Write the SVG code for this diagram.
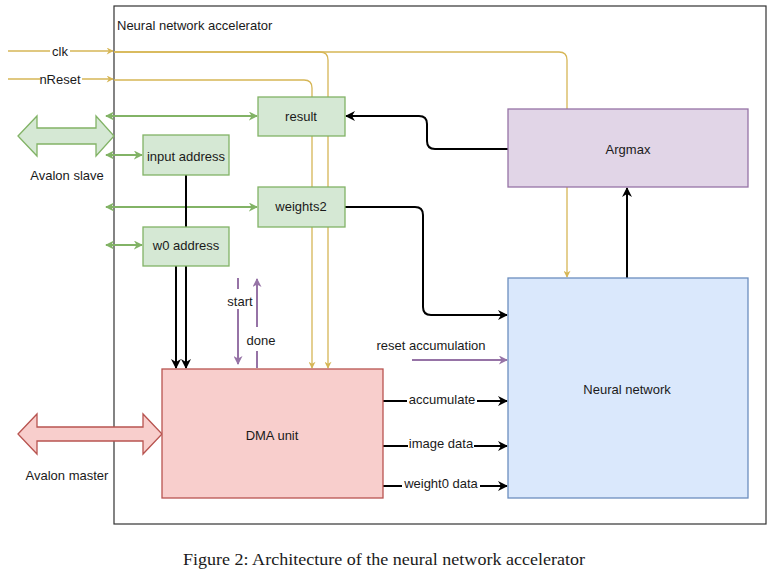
<svg xmlns="http://www.w3.org/2000/svg" width="772" height="579" viewBox="0 0 772 579">
<defs>
<style>
text{font-family:"Liberation Sans",Arial,sans-serif;font-size:13px;fill:#1a1a1a}
.c{text-anchor:middle}
.blk{fill:none;stroke:#000;stroke-width:2}
.grn{fill:none;stroke:#82b366;stroke-width:2}
.yel{fill:none;stroke:#d6b656;stroke-width:1.3}
.pur{fill:none;stroke:#9673a6;stroke-width:2}
.bg{fill:#fff}
.gbox{fill:#d5e8d4;stroke:#82b366;stroke-width:1.3}
</style>
<marker id="ab" viewBox="0 0 10 10" refX="9" refY="5" markerWidth="10" markerHeight="10" markerUnits="userSpaceOnUse" orient="auto-start-reverse"><path d="M0,0 L10,5 L0,10 L3,5 z" fill="#000"/></marker>
<marker id="ag" viewBox="0 0 10 10" refX="9" refY="5" markerWidth="9" markerHeight="9" markerUnits="userSpaceOnUse" orient="auto-start-reverse"><path d="M0,0 L10,5 L0,10 L3,5 z" fill="#82b366"/></marker>
<marker id="ay" viewBox="0 0 10 10" refX="9" refY="5" markerWidth="8" markerHeight="7" markerUnits="userSpaceOnUse" orient="auto"><path d="M0,0 L10,5 L0,10 L3,5 z" fill="#d6b656"/></marker>
<marker id="ap" viewBox="0 0 10 10" refX="9" refY="5" markerWidth="10" markerHeight="9" markerUnits="userSpaceOnUse" orient="auto"><path d="M0,0 L10,5 L0,10 L3,5 z" fill="#9673a6"/></marker>
</defs>
<rect width="772" height="579" fill="#fff"/>

<g id="container">
<rect x="114" y="6" width="652" height="518" fill="none" stroke="#333" stroke-width="1.2"/>
<text x="117" y="30">Neural network accelerator</text>
</g>

<g id="connectors">
<path class="yel" d="M8,51 H113" marker-end="url(#ay)"/>
<path class="yel" d="M8,79 H113" marker-end="url(#ay)"/>
<path class="yel" d="M114,52 H320 Q328,52 328,60 V368" marker-end="url(#ay)"/>
<path class="yel" d="M114,80 H304 Q312,80 312,88 V368" marker-end="url(#ay)"/>
<path class="yel" d="M114,52 H559 Q567,52 567,60 V277" marker-end="url(#ay)"/>
<path class="grn" d="M106,116 H257" marker-start="url(#ag)" marker-end="url(#ag)"/>
<path class="grn" d="M106,155 H142" marker-start="url(#ag)" marker-end="url(#ag)"/>
<path class="grn" d="M106,207 H257" marker-start="url(#ag)" marker-end="url(#ag)"/>
<path class="grn" d="M106,245 H142" marker-start="url(#ag)" marker-end="url(#ag)"/>
<path class="blk" d="M186,175 V368" marker-end="url(#ab)"/>
<path class="blk" d="M176,266 V368" marker-end="url(#ab)"/>
<path class="blk" d="M508,149 H435 Q427,149 427,141 V124 Q427,116 419,116 H346" marker-end="url(#ab)"/>
<path class="blk" d="M345,207 H415 Q423,207 423,215 V307 Q423,315 431,315 H507" marker-end="url(#ab)"/>
<path class="blk" d="M627,278 V188" marker-end="url(#ab)"/>
<path class="blk" d="M383,401 H507" marker-end="url(#ab)"/>
<path class="blk" d="M383,446 H507" marker-end="url(#ab)"/>
<path class="blk" d="M383,486 H507" marker-end="url(#ab)"/>
<path class="pur" d="M412,360 H507" marker-end="url(#ap)"/>
<path class="pur" d="M238,278 V364" marker-end="url(#ap)"/>
<path class="pur" d="M257,368 V279" marker-end="url(#ap)"/>
<rect class="bg" x="50" y="45" width="20" height="13"/>
<text class="c" x="60" y="56">clk</text>
<rect class="bg" x="40" y="73" width="42" height="13"/>
<text class="c" x="60" y="84">nReset</text>
<rect class="bg" x="226" y="289" width="28" height="20"/>
<text class="c" x="240" y="306">start</text>
<rect class="bg" x="245" y="327" width="32" height="24"/>
<text class="c" x="261" y="345">done</text>
<text class="c" x="431" y="350">reset accumulation</text>
<rect class="bg" x="407" y="393" width="70" height="13"/>
<text class="c" x="442" y="404">accumulate</text>
<rect class="bg" x="408" y="437" width="66" height="14"/>
<text class="c" x="441" y="448">image data</text>
<rect class="bg" x="402" y="477" width="78" height="14"/>
<text class="c" x="441" y="488">weight0 data</text>
</g>

<g id="avalon-slave">
<polygon points="18,136 37,116 37,128 96,128 96,116 114,136 96,156 96,144 37,144 37,156" fill="#d5e8d4" stroke="#82b366" stroke-width="1.3"/>
<text class="c" x="67" y="180">Avalon slave</text>
</g>

<g id="avalon-master">
<polygon points="18,434 37,414 37,427 143,427 143,414 162,434 143,454 143,441 37,441 37,454" fill="#f8cecc" stroke="#b85450" stroke-width="1.3"/>
<text class="c" x="67" y="480">Avalon master</text>
</g>

<g id="result">
<rect class="gbox" x="258" y="97" width="87" height="39"/>
<text class="c" x="301" y="121">result</text>
</g>
<g id="input-address">
<rect class="gbox" x="143" y="135" width="86" height="40"/>
<text class="c" x="186" y="161">input address</text>
</g>
<g id="weights2">
<rect class="gbox" x="258" y="187" width="87" height="40"/>
<text class="c" x="301" y="211">weights2</text>
</g>
<g id="w0-address">
<rect class="gbox" x="143" y="227" width="86" height="39"/>
<text class="c" x="186" y="250">w0 address</text>
</g>
<g id="argmax">
<rect x="508" y="109" width="240" height="78" fill="#e1d5e7" stroke="#9673a6" stroke-width="1.3"/>
<text class="c" x="628" y="154">Argmax</text>
</g>
<g id="neural-network">
<rect x="508" y="278" width="240" height="220" fill="#dae8fc" stroke="#6c8ebf" stroke-width="1.3"/>
<text class="c" x="627" y="394">Neural network</text>
</g>
<g id="dma-unit">
<rect x="162" y="369" width="221" height="129" fill="#f8cecc" stroke="#b85450" stroke-width="1.3"/>
<text class="c" x="272" y="440">DMA unit</text>
</g>

<text x="183" y="565" textLength="402" lengthAdjust="spacingAndGlyphs" style="font-family:'Liberation Serif','DejaVu Serif',serif;font-size:17px">Figure 2: Architecture of the neural network accelerator</text>
</svg>
